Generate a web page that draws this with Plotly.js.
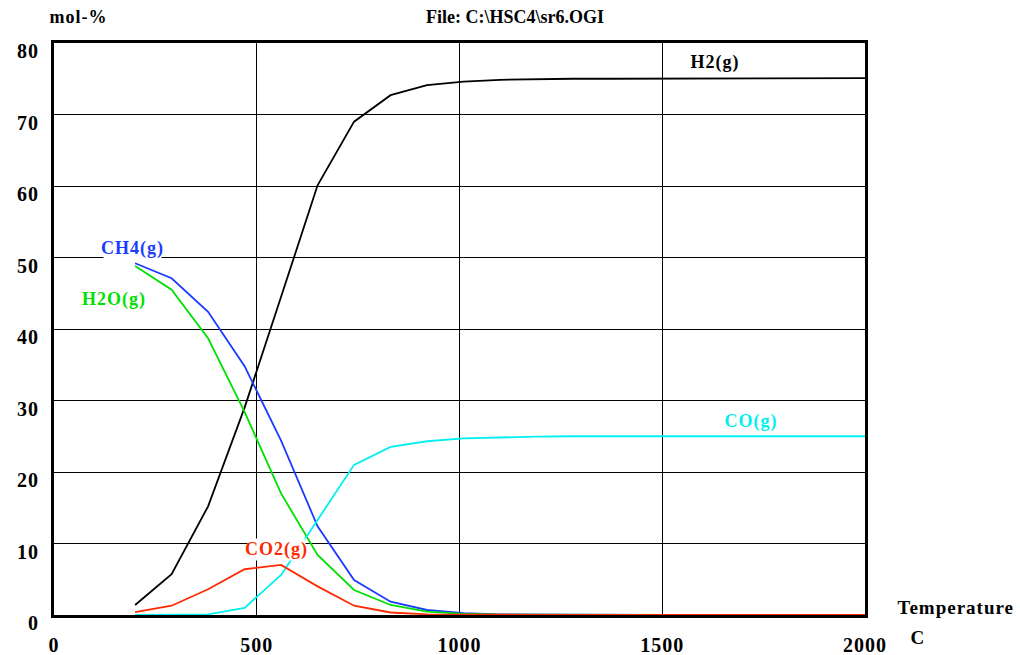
<!DOCTYPE html>
<html>
<head>
<meta charset="utf-8">
<script src="https://cdn.plot.ly/plotly-3.0.1.min.js"></script>
<style>
html,body{margin:0;padding:0;background:#fff;}
#chart{width:1020px;height:655px;}
#chart .xtick text, #chart .ytick text, #chart .annotation-text { letter-spacing: 1px; }
</style>
</head>
<body>
<div id="chart"></div>
<script>
const temperature = [200, 290, 380, 470, 560, 650, 740, 830, 920, 1010, 1100, 1190, 1280, 1370, 1460, 1550, 1640, 1730, 1820, 1910, 2000];
const h2  = [1.4, 5.7, 15.2, 29.0, 44.5, 60.1, 69.0, 72.7, 74.1, 74.6, 74.85, 74.95, 75.0, 75.0, 75.02, 75.03, 75.05, 75.06, 75.08, 75.09, 75.1];
const ch4 = [49.2, 47.1, 42.4, 34.8, 24.4, 12.4, 4.9, 1.86, 0.7, 0.25, 0.1, 0.05, 0.02, 0.01, 0, 0, 0, 0, 0, 0, 0];
const h2o = [48.8, 45.5, 38.7, 28.4, 17.0, 8.4, 3.5, 1.4, 0.46, 0.15, 0.06, 0.03, 0.01, 0.01, 0, 0, 0, 0, 0, 0, 0];
const co  = [0.0, 0.05, 0.1, 1.0, 5.6, 13.3, 21.0, 23.5, 24.3, 24.7, 24.85, 24.95, 25.0, 25.0, 25.0, 25.0, 25.0, 25.0, 25.0, 25.0, 25.0];
const co2 = [0.4, 1.3, 3.6, 6.4, 7.0, 4.0, 1.3, 0.35, 0.1, 0.04, 0.02, 0.01, 0, 0, 0, 0, 0, 0, 0, 0, 0];

const seriesNames  = ["H2(g)", "CH4(g)", "H2O(g)", "CO(g)", "CO2(g)"];
const seriesValues = [h2, ch4, h2o, co, co2];
const seriesColors = ["#000000", "#1a3cff", "#00e000", "#00f0f0", "#ff2a00"];
const labelX = [715, 132, 114, 751, 276];   // label anchor positions in pixels
const labelY = [62, 248, 299, 421, 549];
const labelBg = [null, "#ffffff", null, null, "#ffffff"];

const xTicks = [0, 500, 1000, 1500, 2000];
const yTicks = [0, 10, 20, 30, 40, 50, 60, 70, 80];

const FONT = "Liberation Serif, Times New Roman, serif";

const traces = seriesValues.map((vals, i) => ({
  x: temperature, y: vals, type: "scatter", mode: "lines",
  name: seriesNames[i], line: {color: seriesColors[i], width: 1.8},
  hoverinfo: "skip", showlegend: false
}));

const W = 1020, H = 655;
const px2x = p => (p - 54) / (865 - 54);
const px2y = p => (615 - p) / (615 - 43);
const annotations = seriesNames.map((n, i) => ({
  xref: "paper", yref: "paper",
  x: px2x(labelX[i]), y: px2y(labelY[i]),
  xanchor: "center", yanchor: "middle", showarrow: false,
  text: "<b>" + n + "</b>",
  font: {family: FONT, size: 18, color: seriesColors[i]},
  bgcolor: labelBg[i] || "rgba(0,0,0,0)", borderpad: 0
}));
annotations.push(
  {xref: "paper", yref: "paper", x: px2x(78), y: px2y(17), xanchor: "center", yanchor: "middle",
   showarrow: false, text: "<b>mol-%</b>", font: {family: FONT, size: 18, color: "#000"}},
  {xref: "paper", yref: "paper", x: px2x(956), y: px2y(607), xanchor: "center", yanchor: "middle",
   showarrow: false, text: "<b>Temperature</b>", font: {family: FONT, size: 19, color: "#000"}},
  {xref: "paper", yref: "paper", x: px2x(918), y: px2y(637), xanchor: "center", yanchor: "middle",
   showarrow: false, text: "<b>C</b>", font: {family: FONT, size: 19, color: "#000"}}
);

const layout = {
  width: W, height: H,
  margin: {l: 54, r: 155, t: 43, b: 40, pad: 0},
  paper_bgcolor: "#fff", plot_bgcolor: "#fff",
  title: {text: "<b>File: C:\\HSC4\\sr6.OGI</b>", font: {family: FONT, size: 18, color: "#000"},
          x: 515 / W, xanchor: "center", y: 1 - 17 / H, yanchor: "middle"},
  xaxis: {range: [0, 2000], tickvals: xTicks, ticktext: xTicks.map(v => "<b>" + v + "</b>"),
          showgrid: true, gridcolor: "#000", gridwidth: 1, zeroline: false,
          showline: true, linecolor: "#000", linewidth: 3, mirror: true,
          ticks: "", tickfont: {family: FONT, size: 20, color: "#000"}, ticklabelstandoff: 10,
          layer: "below traces", fixedrange: true},
  yaxis: {range: [0, 80], tickvals: yTicks, ticktext: yTicks.map(v => "<b>" + v + "</b>"),
          showgrid: true, gridcolor: "#000", gridwidth: 1, zeroline: false,
          showline: true, linecolor: "#000", linewidth: 3, mirror: true,
          ticks: "", tickfont: {family: FONT, size: 20, color: "#000"}, ticklabelstandoff: 8,
          ticklabelshift: 8, layer: "below traces", fixedrange: true},
  annotations: annotations
};

Plotly.newPlot("chart", traces, layout, {displayModeBar: false, staticPlot: true});
</script>
</body>
</html>
